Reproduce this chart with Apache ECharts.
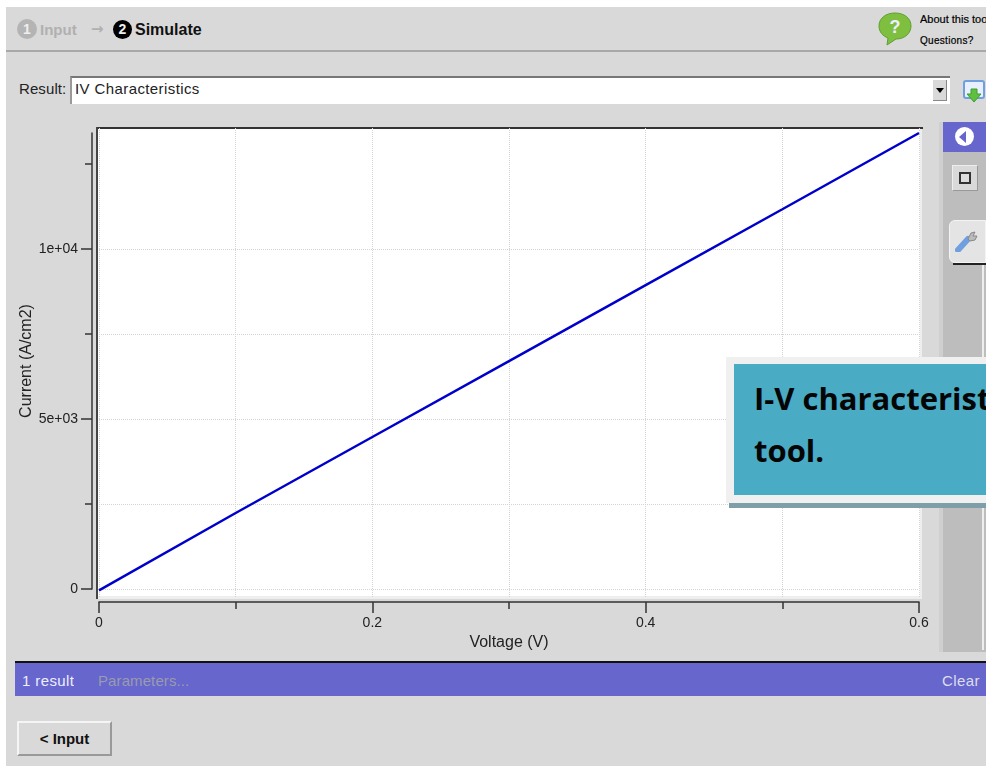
<!DOCTYPE html>
<html><head><meta charset="utf-8">
<style>
html,body{margin:0;padding:0;width:986px;height:766px;overflow:hidden;background:#fff}
#page{position:absolute;left:6px;top:7px;width:980px;height:759px;background:#d9d9d9}
.a{position:absolute;white-space:nowrap;overflow:hidden}
.t{font-family:"Liberation Sans";font-size:15px;color:#222;letter-spacing:.5px}
#chart{position:absolute;left:0;top:0;width:986px;height:766px}
</style>
<script src="https://cdn.jsdelivr.net/npm/echarts@6/dist/echarts.min.js"></script>
</head><body>
<div id="page"></div>
<!-- top bar -->
<div class="a" style="left:6px;top:50px;width:980px;height:2px;background:#a8a8a8"></div>
<div class="a" style="left:17px;top:19px;width:20px;height:20px;border-radius:50%;background:#b4b4b4;color:#eee;font:bold 14px/20px 'Liberation Sans';text-align:center">1</div>
<div class="a" style="left:40px;top:20px;font:bold 15px/20px 'Liberation Sans';color:#b0b0b0">Input</div>
<div class="a" style="left:91px;top:19px;font:bold 15px/20px 'DejaVu Sans';color:#b0b0b0">→</div>
<div class="a" style="left:113px;top:20px;width:19px;height:19px;border-radius:50%;background:#000;color:#eee;font:bold 14px/19px 'Liberation Sans';text-align:center">2</div>
<div class="a" style="left:135px;top:20px;font:bold 16px/20px 'Liberation Sans';color:#111">Simulate</div>
<svg class="a" style="left:878px;top:12px" width="36" height="34" viewBox="0 0 36 34"><path d="M17 1C8 1 1 6 1 14c0 6 4 10 9 12l-1 7 9-6c9 0 15-6 15-13C33 6 26 1 17 1z" fill="#7fbf3f" stroke="#5f9f2f"/><text x="17" y="21" font-family="Liberation Sans" font-weight="bold" font-size="18" fill="#eef" text-anchor="middle">?</text></svg>
<div class="a" style="left:920px;top:12px;width:66px;font:11px/15px 'Liberation Sans';color:#000;-webkit-text-stroke:.2px #000">About this tool</div>
<div class="a" style="left:920px;top:33px;width:66px;font:10px/15px 'Liberation Sans';color:#000;letter-spacing:.3px;-webkit-text-stroke:.2px #000">Questions?</div>
<!-- result selector -->
<div class="a t" style="left:19px;top:80px;line-height:18px;letter-spacing:.1px">Result:</div>
<div class="a" style="left:70px;top:76px;width:880px;height:28px;background:#fff;border-top:2px solid #777;border-left:2px solid #999;box-sizing:border-box"></div>
<div class="a t" style="left:75px;top:80px;line-height:18px;letter-spacing:.4px">IV Characteristics</div>
<div class="a" style="left:933px;top:80px;width:14px;height:21px;background:#d9d9d9;border-right:1px solid #888;border-bottom:1px solid #888;box-sizing:border-box"></div>
<div class="a" style="left:936px;top:88px;width:0;height:0;border-left:4px solid transparent;border-right:4px solid transparent;border-top:5px solid #000"></div>
<svg class="a" style="left:963px;top:80px" width="23" height="24" viewBox="0 0 23 24"><rect x="1" y="1" width="20" height="17" rx="2" fill="#e8f0ff" stroke="#6f9fdf" stroke-width="2"/><path d="M8 9h6v5h4l-7 8-7-8h4z" fill="#5fbf3f" stroke="#3f9f2f"/></svg>
<!-- plot background -->
<div class="a" style="left:97px;top:127px;width:823px;height:469px;background:#fff;border-right:2px solid #eee;border-bottom:3px solid #eee;box-sizing:content-box"></div>
<div class="a" style="left:96px;top:127px;width:827px;height:2px;background:#333"></div>
<div class="a" style="left:96px;top:127px;width:2px;height:472px;background:#444"></div>
<div id="chart"></div>
<!-- right panel -->
<div class="a" style="left:939px;top:122px;width:4px;height:530px;background:#cfcfcf"></div>
<div class="a" style="left:943px;top:122px;width:43px;height:530px;background:#bdbdbd"></div>
<div class="a" style="left:943px;top:122px;width:43px;height:30px;background:#6666cc"></div>
<div class="a" style="left:955px;top:127px;width:19px;height:19px;border-radius:50%;background:#fff"></div>
<div class="a" style="left:959px;top:131px;width:0;height:0;border-top:6px solid transparent;border-bottom:6px solid transparent;border-right:7px solid #6666cc"></div>
<div class="a" style="left:952px;top:165px;width:26px;height:26px;background:#d9d9d9;border:1px solid #eee;border-right-color:#999;border-bottom-color:#999;box-sizing:border-box"></div>
<div class="a" style="left:959px;top:172px;width:12px;height:12px;background:#ddd;border:2px solid #333;box-sizing:border-box"></div>
<div class="a" style="left:949px;top:220px;width:37px;height:43px;background:#e4e4e4;border:1px solid #f4f4f4;border-radius:6px 0 0 6px;box-sizing:border-box"></div>
<div class="a" style="left:953px;top:263px;width:33px;height:2px;background:#222"></div>
<svg class="a" style="left:955px;top:230px" width="24" height="22" viewBox="0 0 24 22"><path d="M3 20 L13 9" stroke="#6f9fdf" stroke-width="6" stroke-linecap="round"/><path d="M13 9 L16 3 L20 2 L18 6 L22 6 L20 10 L15 11z" fill="#bbb" stroke="#888"/></svg>
<div class="a" style="left:982px;top:265px;width:2px;height:385px;background:#eee"></div>
<!-- status bar -->
<div class="a" style="left:15px;top:661px;width:971px;height:2px;background:#111"></div>
<div class="a" style="left:15px;top:663px;width:971px;height:33px;background:#6666cc"></div>
<div class="a t" style="left:22px;top:672px;line-height:18px;color:#eef;letter-spacing:.4px">1 result</div>
<div class="a t" style="left:98px;top:672px;line-height:18px;color:#9a9ab0;letter-spacing:.1px">Parameters...</div>
<div class="a t" style="left:942px;top:672px;line-height:18px;color:#dde;letter-spacing:.4px">Clear</div>
<!-- input button -->
<div class="a" style="left:17px;top:721px;width:95px;height:35px;background:#d9d9d9;border:2px solid #f5f5f5;border-right-color:#999;border-bottom-color:#999;box-sizing:border-box;font:bold 15px/31px 'Liberation Sans';color:#111;text-align:center">&lt; Input</div>
<!-- callout -->
<div class="a" style="left:729px;top:503px;width:257px;height:5px;background:#7e9fa9"></div>
<div class="a" style="left:726px;top:357px;width:260px;height:146px;background:#f0f0f0"></div>
<div class="a" style="left:734px;top:364px;width:252px;height:131px;background:#4aabc5"></div>
<div class="a" style="left:754px;top:375px;width:232px;font:bold 31px/46px 'Open Sans';color:#050505">I-V characteristics</div>
<div class="a" style="left:754px;top:427px;width:232px;font:bold 31px/46px 'Open Sans';color:#050505">tool.</div>
<script>
var voltage = [0, 0.1, 0.2, 0.3, 0.4, 0.5, 0.6];
var current = [-40, 2235, 4470, 6700, 8940, 11170, 13412];
var xTickLabels = [0, 0.2, 0.4, 0.6];
var yMinorTicks = [0, 2500, 5000, 7500, 10000, 12500];
var yMajorTicks = [0, 5000, 10000];
var yLabels = {0: '0', 5000: '5e+03', 10000: '1e+04'};

var font = 'Liberation Sans', ink = '#222', lineInk = '#333';
var gridDots = {show: true, lineStyle: {color: '#d4d4d4', type: 'dotted', width: 1}};
var chart = echarts.init(document.getElementById('chart'), null, {renderer: 'canvas'});
chart.setOption({
  backgroundColor: 'transparent',
  animation: false,
  grid: [
    {left: 99, top: 133, width: 820, height: 456},
    {left: 99, top: 128, width: 820, height: 469}
  ],
  xAxis: [{
    gridIndex: 0, type: 'value', min: 0, max: 0.6, interval: 0.2, position: 'bottom', offset: 13,
    name: 'Voltage (V)', nameLocation: 'middle', nameGap: 31,
    nameTextStyle: {fontFamily: font, fontSize: 16, color: ink},
    axisLine: {show: true, onZero: false, lineStyle: {color: lineInk, width: 1.5}},
    axisTick: {show: true, length: 11, lineStyle: {color: lineInk, width: 1.5}},
    minorTick: {show: true, splitNumber: 2, length: 7, lineStyle: {color: lineInk, width: 1.5}},
    axisLabel: {fontFamily: font, fontSize: 14, color: ink, margin: 14,
      customValues: xTickLabels, formatter: function (v) { return String(v); }},
    splitLine: {show: false}
  }, {
    gridIndex: 1, type: 'value', min: 0, max: 0.6, interval: 0.2,
    axisLine: {show: false}, axisTick: {show: false}, axisLabel: {show: false},
    minorTick: {show: false, splitNumber: 2},
    splitLine: gridDots, minorSplitLine: gridDots
  }],
  yAxis: [{
    gridIndex: 0, type: 'value', min: 0, max: 13412, position: 'left', offset: 7,
    name: 'Current (A/cm2)', nameLocation: 'middle', nameGap: 57, nameRotate: 90, nameMoveOverlap: false,
    nameTextStyle: {fontFamily: font, fontSize: 16, color: ink},
    axisLine: {show: true, onZero: false, lineStyle: {color: lineInk, width: 1.5}},
    axisTick: {show: true, length: 7, customValues: yMinorTicks, lineStyle: {color: lineInk, width: 1.5}},
    axisLabel: {fontFamily: font, fontSize: 14, color: ink, margin: 14, customValues: yMajorTicks,
      formatter: function (v) { return yLabels[v]; }},
    splitLine: Object.assign({showMinLine: true, showMaxLine: false}, gridDots)
  }, {
    gridIndex: 0, type: 'value', min: 0, max: 13412, position: 'left', offset: 7,
    axisLine: {show: false, onZero: false},
    axisTick: {show: true, length: 11, customValues: yMajorTicks, lineStyle: {color: lineInk, width: 1.5}},
    axisLabel: {show: false}, splitLine: {show: false}
  }, {
    gridIndex: 1, type: 'value', min: 0, max: 1, show: false
  }],
  series: [{
    type: 'line', xAxisIndex: 0, yAxisIndex: 0, clip: false, showSymbol: false, symbol: 'none',
    lineStyle: {color: '#0000cc', width: 2.5},
    data: voltage.map(function (v, i) { return [v, current[i]]; })
  }]
});
</script>
</body></html>
